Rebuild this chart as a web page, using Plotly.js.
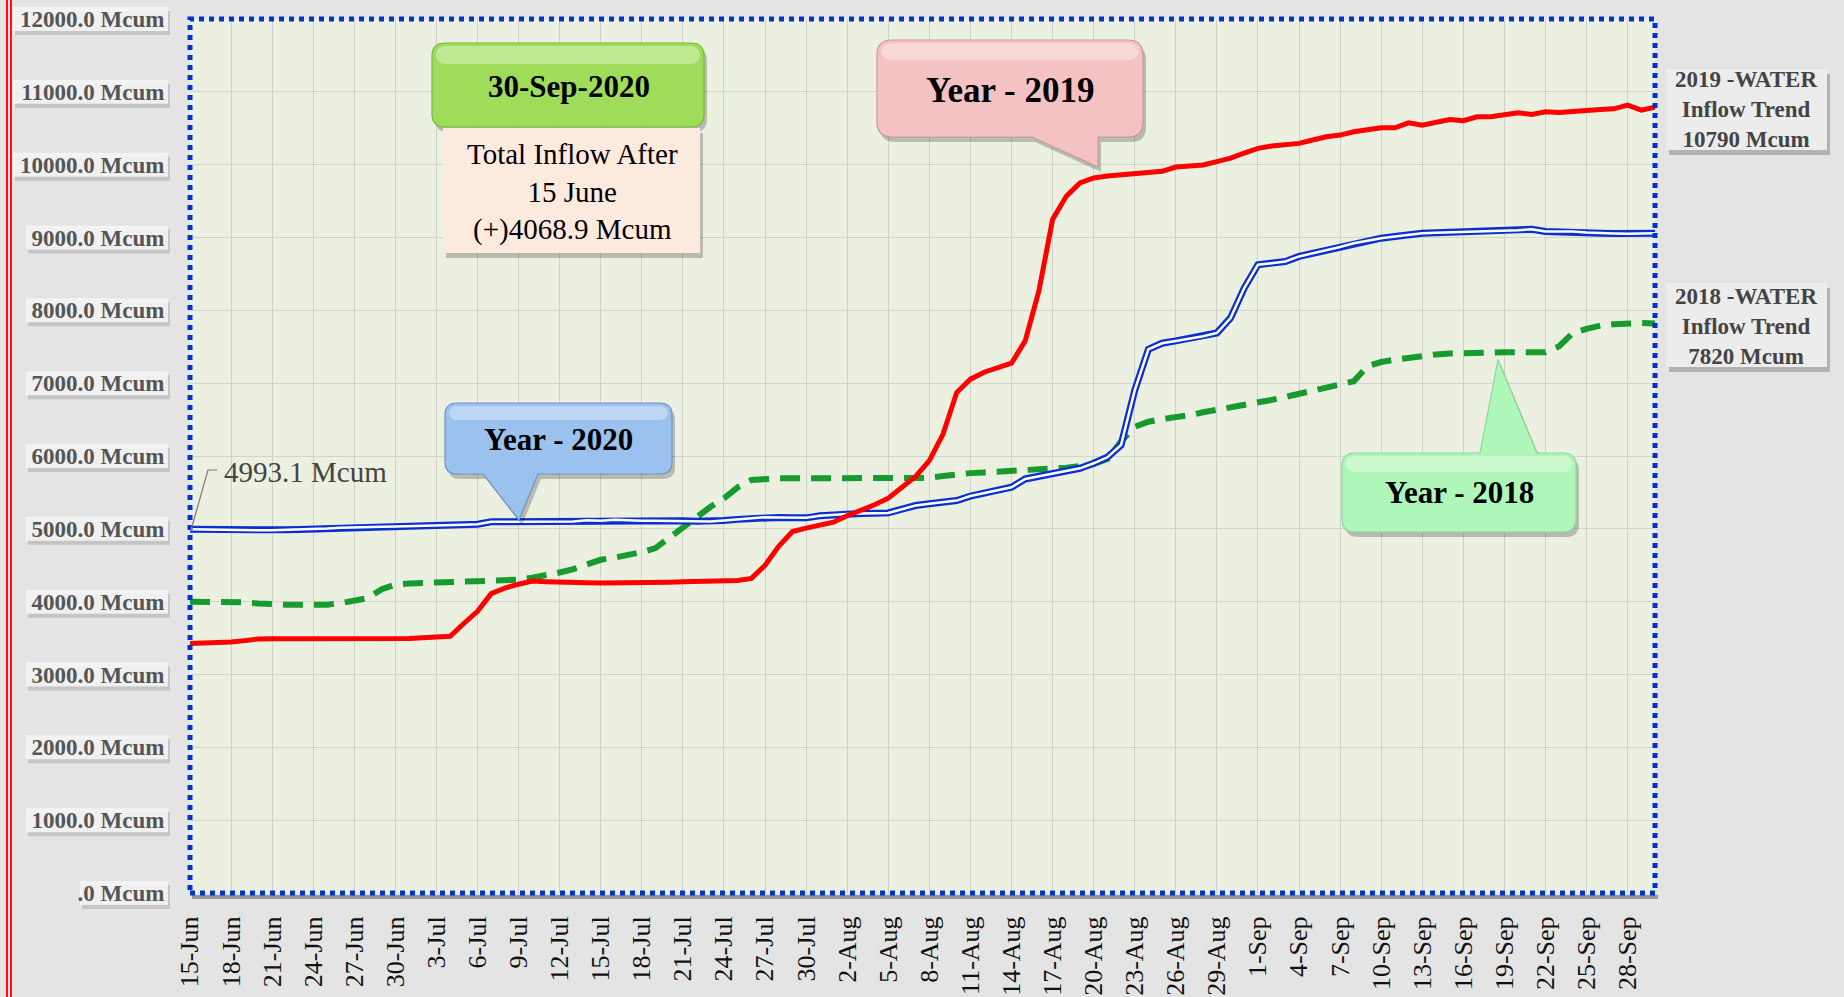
<!DOCTYPE html>
<html>
<head>
<meta charset="utf-8">
<script src="https://cdn.plot.ly/plotly-3.0.1.min.js"></script>
<style>
  html, body { margin: 0; padding: 0; background: #e4e4e4; }
  #chart { width: 1844px; height: 997px; }
</style>
</head>
<body>
<div id="chart"></div>
<script>
// ---------- DATA ----------
const monthSpans = [["Jun", 15, 30], ["Jul", 1, 31], ["Aug", 1, 31], ["Sep", 1, 30]];
const days = [];
monthSpans.forEach(([m, a, b]) => { for (let d = a; d <= b; d++) days.push(d + "-" + m); });

const inflow2019 = [
  3425,3430,3440,3445,3465,3489,3490,3490,3488,3488,
  3489,3489,3489,3485,3482,3480,3495,3505,3515,3525,
  3700,3868,4110,4187,4240,4283,4275,4265,4262,4260,
  4258,4257,4256,4256,4262,4268,4272,4274,4276,4278,
  4290,4320,4500,4760,4963,5010,5050,5091,5180,5250,
  5330,5420,5560,5720,5936,6301,6872,7055,7150,7220,
  7274,7580,8265,9247,9566,9749,9817,9845,9863,9890,
  9905,9909,9968,9990,9995,10041,10090,10160,10224,10255,
  10275,10292,10338,10384,10406,10452,10480,10507,10507,10575,
  10543,10589,10621,10603,10658,10658,10680,10712,10689,10726,
  10717,10735,10749,10758,10767,10817,10749,10790
];
const inflow2020 = [
  4993,4990,4985,4977,4978,4980,4982,4986,4990,4995,
  5005,5015,5023,5026,5029,5032,5035,5038,5041,5048,
  5056,5064,5096,5098,5100,5100,5100,5100,5100,5119,
  5110,5123,5114,5112,5111,5110,5110,5105,5100,5115,
  5130,5145,5160,5157,5153,5151,5180,5195,5205,5210,
  5215,5219,5270,5320,5345,5365,5388,5450,5490,5525,
  5571,5685,5720,5753,5790,5831,5900,5982,6151,6900,
  7466,7548,7580,7610,7644,7689,7895,8306,8626,8648,
  8671,8740,8780,8822,8870,8922,8960,8991,9014,9040,
  9059,9065,9070,9073,9080,9085,9091,9100,9114,9082,
  9082,9082,9070,9059,9055,9050,9055,9059
];
const inflow2018 = [
  4000,4000,4002,4005,3990,3975,3960,3959,3959,3959,
  3959,3980,4005,4050,4170,4235,4250,4258,4265,4270,
  4278,4285,4290,4296,4301,4330,4356,4400,4447,4510,
  4575,4605,4635,4680,4735,4880,5030,5169,5300,5420,
  5570,5670,5690,5694,5694,5694,5694,5694,5694,5694,
  5694,5694,5694,5697,5699,5725,5753,5765,5775,5783,
  5790,5800,5810,5822,5840,5860,5890,5959,6200,6400,
  6470,6507,6530,6560,6600,6630,6680,6710,6735,6770,
  6810,6850,6890,6930,6968,7027,7233,7290,7324,7350,
  7379,7395,7408,7416,7420,7423,7425,7425,7425,7425,
  7507,7689,7745,7790,7810,7826,7826,7820
];
const yTickVals = [0,1000,2000,3000,4000,5000,6000,7000,8000,9000,10000,11000,12000];
const yTickText = [".0 Mcum","1000.0 Mcum","2000.0 Mcum","3000.0 Mcum","4000.0 Mcum","5000.0 Mcum",
  "6000.0 Mcum","7000.0 Mcum","8000.0 Mcum","9000.0 Mcum","10000.0 Mcum","11000.0 Mcum","12000.0 Mcum"];
const xTickLabels = days.filter((d, i) => i % 3 === 0);

// ---------- GEOMETRY HELPERS (pixel -> paper) ----------
const L = 190, R = 1655, T = 19, B = 893;
const X = p => (p - L) / (R - L);
const Y = p => (B - p) / (B - T);
function pathFrom(cmds, dx = 0, dy = 0) {
  return cmds.map(c => {
    if (c[0] === 'Z') return 'Z';
    let s = c[0];
    for (let k = 1; k < c.length; k += 2) s += ' ' + X(c[k] + dx).toFixed(5) + ',' + Y(c[k + 1] + dy).toFixed(5);
    return s;
  }).join(' ');
}
function callout(x0, y0, x1, y1, r, ptr) {
  const c = [['M', x0 + r, y0]];
  if (ptr && ptr.side === 'top') { c.push(['L', ptr.a, y0], ['L', ptr.tx, ptr.ty], ['L', ptr.b, y0]); }
  c.push(['L', x1 - r, y0], ['Q', x1, y0, x1, y0 + r], ['L', x1, y1 - r], ['Q', x1, y1, x1 - r, y1]);
  if (ptr && ptr.side === 'bottom') { c.push(['L', ptr.b, y1], ['L', ptr.tx, ptr.ty], ['L', ptr.a, y1]); }
  c.push(['L', x0 + r, y1], ['Q', x0, y1, x0, y1 - r], ['L', x0, y0 + r], ['Q', x0, y0, x0 + r, y0], ['Z']);
  return c;
}
const rectCmds = (x0, y0, x1, y1) => [['M',x0,y0],['L',x1,y0],['L',x1,y1],['L',x0,y1],['Z']];
const shapes = [];
function addBox(cmds, fill, line, shadow = true, layer = 'above') {
  if (shadow) shapes.push({type: 'path', xref: 'paper', yref: 'paper', layer: layer,
    path: pathFrom(cmds, 3, 5), fillcolor: 'rgba(0,0,0,0.22)', line: {width: 0}});
  shapes.push({type: 'path', xref: 'paper', yref: 'paper', layer: layer,
    path: pathFrom(cmds), fillcolor: fill, line: {color: line || 'rgba(0,0,0,0)', width: line ? 1.2 : 0}});
}
function highlight(x0, y0, x1, y1, r) {
  shapes.push({type: 'path', xref: 'paper', yref: 'paper', layer: 'above',
    path: pathFrom(callout(x0, y0, x1, y1, r)), fillcolor: 'rgba(255,255,255,0.35)', line: {width: 0}});
}

// soft label plates behind y tick labels
yTickVals.forEach(v => {
  const yc = B - v * (B - T) / 12000;
  const x0 = v === 0 ? 80 : (v >= 10000 ? 13 : 26);
  shapes.push({type: 'path', xref: 'paper', yref: 'paper', layer: 'below',
    path: pathFrom(rectCmds(x0 + 2, yc - 8, 170, yc + 16)), fillcolor: 'rgba(120,120,120,0.28)', line: {width: 0}});
  shapes.push({type: 'path', xref: 'paper', yref: 'paper', layer: 'below',
    path: pathFrom(rectCmds(x0, yc - 12, 168, yc + 12)), fillcolor: 'rgba(244,244,244,0.9)', line: {width: 0}});
});

// left red double rule
[7, 11].forEach(x => shapes.push({type: 'line', xref: 'paper', yref: 'paper', layer: 'above',
  x0: X(x), x1: X(x), y0: Y(0), y1: Y(997), line: {color: '#ff1010', width: 2}}));

// shadow under bottom border
shapes.push({type: 'line', xref: 'paper', yref: 'paper', layer: 'below',
  x0: X(192), x1: X(1658), y0: Y(897), y1: Y(897), line: {color: 'rgba(60,60,60,0.45)', width: 4}});
// dotted plot border
shapes.push({type: 'rect', xref: 'paper', yref: 'paper', layer: 'above',
  x0: 0, x1: 1, y0: 0, y1: 1, line: {color: '#0033cc', width: 5, dash: '5px,5px'}});

// callouts and boxes
addBox(callout(432, 43, 704, 127, 13), '#9fdc5a', '#7ab83c');
highlight(436, 46, 700, 64, 10);
addBox(rectCmds(443, 128, 700, 253), '#fdeadf', null);
addBox(callout(877, 40, 1143, 137, 15, {side: 'bottom', a: 1032, b: 1098, tx: 1098, ty: 167}), '#f4c2c3', '#c99a9a');
highlight(881, 43, 1139, 60, 11);
addBox(callout(445, 403, 672, 474, 12, {side: 'bottom', a: 483, b: 538, tx: 519, ty: 520}), '#9bc2ef', '#6f93c2');
highlight(449, 406, 668, 420, 9);
addBox(callout(1342, 453, 1576, 532, 13, {side: 'top', a: 1480, b: 1537, tx: 1498, ty: 360}), '#aff7b8', '#8fd39a');
highlight(1346, 456, 1572, 472, 10);
addBox(rectCmds(1666, 69, 1827, 150), '#ececec', null);
addBox(rectCmds(1666, 283, 1827, 367), '#ececec', null);

// leader for first 2020 value
shapes.push({type: 'path', xref: 'paper', yref: 'paper', layer: 'above',
  path: pathFrom([['M',191,530],['L',208,470],['L',217,470]]), line: {color: '#7a7a7a', width: 1.2}});

// ---------- ANNOTATIONS ----------
const SERIF = 'Liberation Serif, DejaVu Serif, serif';
function note(x, y, text, size, bold, color) {
  return {xref: 'paper', yref: 'paper', x: X(x), y: Y(y), xanchor: 'center', yanchor: 'middle',
    text: bold ? '<b>' + text + '</b>' : text, showarrow: false, align: 'center',
    font: {family: SERIF, size: size, color: color || '#000'}};
}
const annotations = [
  note(569, 87, '30-Sep-2020', 31, true),
  note(572, 192, 'Total Inflow After<br>15 June<br>(+)4068.9 Mcum', 29, false),
  note(1010, 90, 'Year - 2019', 35, true),
  note(558, 439, 'Year - 2020', 31, true),
  note(1459, 493, 'Year - 2018', 31, true),
  note(1746, 109, '2019 -WATER<br>Inflow Trend<br>10790 Mcum', 23, true, '#444'),
  note(1746, 326, '2018 -WATER<br>Inflow Trend<br>7820 Mcum', 23, true, '#444'),
  {xref: 'paper', yref: 'paper', x: X(222), y: Y(472), xanchor: 'left', yanchor: 'middle',
   text: '4993.1 Mcum', showarrow: false, font: {family: SERIF, size: 29, color: '#444'}}
];

// ---------- TRACES ----------
const traces = [
  {x: days, y: inflow2018, type: 'scatter', mode: 'lines', name: '2018',
   line: {color: '#179a2e', width: 6, dash: '20px,11px'}, hoverinfo: 'skip'},
  {x: days, y: inflow2020, type: 'scatter', mode: 'lines', name: '2020',
   line: {color: '#0a2ed0', width: 7}, hoverinfo: 'skip'},
  {x: days, y: inflow2020, type: 'scatter', mode: 'lines', name: '2020 inner',
   line: {color: '#ffffff', width: 2.5}, hoverinfo: 'skip'},
  {x: days, y: inflow2019, type: 'scatter', mode: 'lines', name: '2019',
   line: {color: '#ff0000', width: 5}, hoverinfo: 'skip'}
];

const layout = {
  width: 1844, height: 997,
  margin: {l: L, r: 1844 - R, t: T, b: 997 - B, pad: 0},
  paper_bgcolor: '#e4e4e4',
  plot_bgcolor: '#ecf0e0',
  showlegend: false,
  xaxis: {
    type: 'category', range: [0, days.length - 1],
    tickmode: 'array', tickvals: xTickLabels, ticktext: xTickLabels,
    tickangle: -90, ticks: 'outside', ticklen: 12, tickcolor: 'rgba(0,0,0,0)',
    tickfont: {family: SERIF, size: 26, color: '#111'},
    showgrid: true, gridcolor: '#cfd0c8', gridwidth: 1,
    zeroline: false, showline: false, fixedrange: true
  },
  yaxis: {
    range: [0, 12000], tickmode: 'array', tickvals: yTickVals, ticktext: yTickText,
    ticks: 'outside', ticklen: 20, tickcolor: 'rgba(0,0,0,0)',
    tickfont: {family: SERIF, size: 23, color: '#555', weight: 'bold'},
    showgrid: true, gridcolor: '#d3d4cc', gridwidth: 1,
    zeroline: false, showline: false, fixedrange: true
  },
  shapes: shapes,
  annotations: annotations
};

Plotly.newPlot('chart', traces, layout, {displayModeBar: false, staticPlot: true});
</script>
</body>
</html>
